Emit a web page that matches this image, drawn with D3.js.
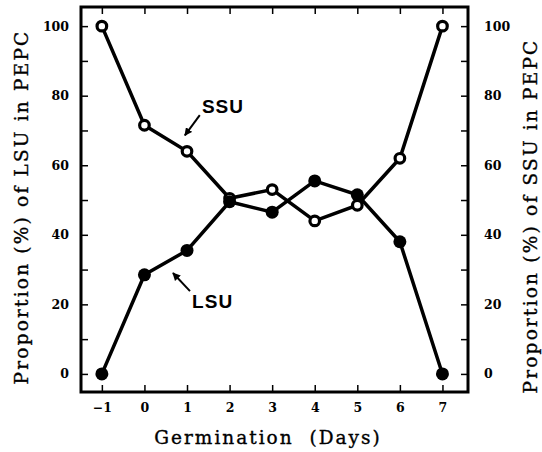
<!DOCTYPE html>
<html>
<head>
<meta charset="utf-8">
<script src="https://cdn.jsdelivr.net/npm/d3@7"></script>
<style>
  body { margin: 0; background: #fff; }
  svg { display: block; }
  .tick text { font-family: "DejaVu Serif", serif; font-weight: bold; font-size: 12.5px; }
  .axis-title { font-family: "DejaVu Serif", serif; font-size: 18.5px; stroke: #000; stroke-width: 0.35px; }
  .note { font-family: "Liberation Sans", Arial, sans-serif; font-weight: bold; font-size: 19px; letter-spacing: 1px; }
</style>
</head>
<body>
<script>
// data
var days = [-1, 0, 1, 2, 3, 4, 5, 6, 7];
var lsu = [0, 28.5, 35.5, 49.5, 46.5, 55.5, 51.5, 38, 0];
var ssu = [100, 71.5, 64, 50.5, 53, 44, 48.5, 62, 100];
var yTicks = [0, 20, 40, 60, 80, 100];

var w = 542, h = 452;
var margin = { top: 7, right: 74, bottom: 60, left: 81 };
var plotW = w - margin.left - margin.right,
    plotH = h - margin.top - margin.bottom;

var svg = d3.select('body').append('svg')
  .attr('width', w)
  .attr('height', h);

var g = svg.append('g')
  .attr('transform', translation(margin.left, margin.top));

var x = d3.scaleLinear().domain([-1.49, 7.6]).range([0, plotW]);
var y = d3.scaleLinear().domain([-5.2, 105.5]).range([plotH, 0]);

// frame
g.append('rect')
  .attr('width', plotW)
  .attr('height', plotH)
  .attr('fill', 'none')
  .attr('stroke', '#000')
  .attr('stroke-width', 3);

// axes, ticks pointing inward
function styleAxis(sel) {
  sel.select('.domain').remove();
  sel.selectAll('.tick line').attr('stroke', '#000').attr('stroke-width', 1.5);
}

var yMinor = d3.range(0, 101, 10);
function yLabel(d) { return yTicks.indexOf(d) >= 0 ? d : ''; }

g.append('g')
  .attr('class', 'axis x bottom')
  .attr('transform', translation(0, plotH))
  .call(d3.axisBottom(x).tickValues(days).tickSizeInner(-7).tickSizeOuter(0).tickPadding(11)
    .tickFormat(function(d) { return d < 0 ? '\u2212' + (-d) : d; }))
  .call(styleAxis);

g.append('g')
  .attr('class', 'axis x top')
  .call(d3.axisTop(x).tickValues(days).tickSizeInner(-7).tickSizeOuter(0).tickFormat(''))
  .call(styleAxis);

g.append('g')
  .attr('class', 'axis y left')
  .call(d3.axisLeft(y).tickValues(yMinor).tickSizeInner(-7).tickSizeOuter(0).tickPadding(12).tickFormat(yLabel))
  .call(styleAxis);

g.append('g')
  .attr('class', 'axis y right')
  .attr('transform', translation(plotW, 0))
  .call(d3.axisRight(y).tickValues(yMinor).tickSizeInner(-7).tickSizeOuter(0).tickPadding(16).tickFormat(yLabel))
  .call(styleAxis);

// axis titles
svg.append('text')
  .attr('class', 'axis-title')
  .attr('x', 268)
  .attr('y', 444)
  .attr('text-anchor', 'middle')
  .style('letter-spacing', '2px')
  .text('Germination\u00a0\u00a0(Days)');

svg.append('text')
  .attr('class', 'axis-title')
  .attr('transform', translation(28, 207) + ' rotate(-90)')
  .attr('text-anchor', 'middle')
  .style('letter-spacing', '2.2px')
  .text('Proportion (%) of LSU in PEPC');

svg.append('text')
  .attr('class', 'axis-title')
  .attr('transform', translation(537, 216) + ' rotate(-90)')
  .attr('text-anchor', 'middle')
  .style('letter-spacing', '2.2px')
  .text('Proportion (%) of SSU in PEPC');

// lines
var line = d3.line()
  .x(function(d) { return x(d[0]); })
  .y(function(d) { return y(d[1]); });

[lsu, ssu].forEach(function(vals) {
  g.append('path')
    .datum(d3.zip(days, vals))
    .attr('d', line)
    .attr('fill', 'none')
    .attr('stroke', '#000')
    .attr('stroke-width', 3.5);
});

// markers
g.selectAll('.pt.ssu')
  .data(d3.zip(days, ssu))
  .enter().append('circle')
    .attr('class', 'pt ssu')
    .attr('cx', function(d) { return x(d[0]); })
    .attr('cy', function(d) { return y(d[1]); })
    .attr('r', 4.8)
    .attr('fill', '#fff')
    .attr('stroke', '#000')
    .attr('stroke-width', 3.2);

g.selectAll('.pt.lsu')
  .data(d3.zip(days, lsu))
  .enter().append('circle')
    .attr('class', 'pt lsu')
    .attr('cx', function(d) { return x(d[0]); })
    .attr('cy', function(d) { return y(d[1]); })
    .attr('r', 6.5)
    .attr('fill', '#000');

// labels with arrows
svg.append('defs').append('marker')
  .attr('id', 'head')
  .attr('viewBox', '0 0 10 10')
  .attr('refX', 9).attr('refY', 5)
  .attr('markerWidth', 4).attr('markerHeight', 4)
  .attr('orient', 'auto')
  .append('path')
    .attr('d', 'M0,0L10,5L0,10z')
    .attr('fill', '#000');

var notes = [
  { text: 'SSU', tx: 1.35, ty: 75, ax0: 1.3, ay0: 74.4, ax1: 0.95, ay1: 68.6 },
  { text: 'LSU', tx: 1.12, ty: 19, ax0: 1.07, ay0: 23.8, ax1: 0.67, ay1: 29 }
];

notes.forEach(function(n) {
  g.append('text')
    .attr('class', 'note')
    .attr('x', x(n.tx))
    .attr('y', y(n.ty))
    .text(n.text);
  g.append('line')
    .attr('x1', x(n.ax0)).attr('y1', y(n.ay0))
    .attr('x2', x(n.ax1)).attr('y2', y(n.ay1))
    .attr('stroke', '#000')
    .attr('stroke-width', 2)
    .attr('marker-end', 'url(#head)');
});

function translation(x, y) {
  return 'translate(' + x + ',' + y + ')';
}
</script>
</body>
</html>
